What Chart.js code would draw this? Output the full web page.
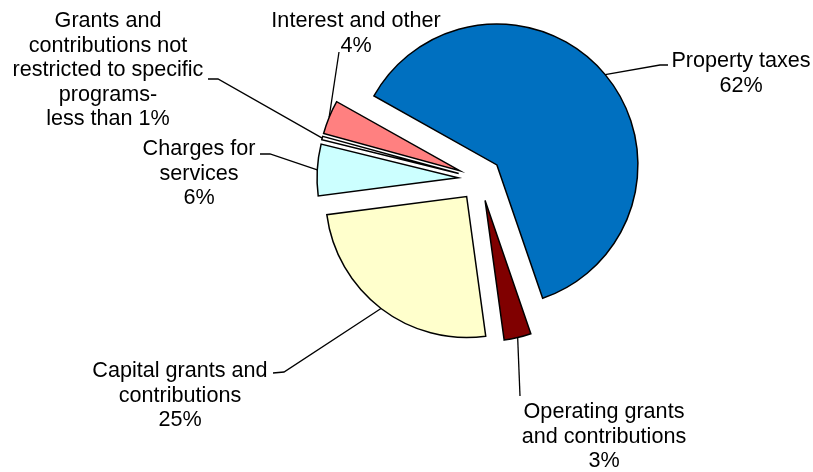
<!DOCTYPE html>
<html>
<head>
<meta charset="utf-8">
<script src="https://cdn.jsdelivr.net/npm/chart.js@4/dist/chart.umd.min.js"></script>
<style>
  html, body { margin: 0; padding: 0; background: #fff; }
  #wrap { width: 813px; height: 472px; }
</style>
</head>
<body>
<div id="wrap"><canvas id="revenueChart" width="813" height="472"></canvas></div>
<script>
// Data
const categories = [
  "Property taxes",
  "Operating grants and contributions",
  "Capital grants and contributions",
  "Charges for services",
  "Grants and contributions not restricted to specific programs",
  "Interest and other"
];
const shares = [61.6, 3.1, 25.1, 5.9, 0.4, 3.9];
const shareLabels = ["62%", "3%", "25%", "6%", "less than 1%", "4%"];
const labelLines = [
  ["Property taxes"],
  ["Operating grants", "and contributions"],
  ["Capital grants and", "contributions"],
  ["Charges for", "services"],
  ["Grants and", "contributions not", "restricted to specific", "programs-"],
  ["Interest and other"]
];
const colors = ["#0070C0", "#800000", "#FFFFCC", "#CCFFFF", "#FFFFFF", "#FF8080"];

// Label placement: text centre x, first baseline y, leader line points after the slice edge
const labelLayout = [
  { tx: 741, ty: 67,  path: [[660, 65], [668, 65]] },
  { tx: 604, ty: 418, path: [[520, 396]] },
  { tx: 180, ty: 377, path: [[284, 372], [273, 373]] },
  { tx: 199, ty: 155, path: [[270, 154], [260, 154]] },
  { tx: 108, ty: 27,  path: [[218, 79], [208, 79]] },
  { tx: 356, ty: 27,  path: [[339, 52]] }
];
const EXPLODE = 22;
const LINE_H = 24.6;

// Push every slice out along its own middle angle
const explodePlugin = {
  id: "explode",
  afterDatasetUpdate(chart, args) {
    args.meta.data.forEach(arc => {
      const mid = (arc.startAngle + arc.endAngle) / 2;
      arc.x += Math.cos(mid) * EXPLODE;
      arc.y += Math.sin(mid) * EXPLODE;
    });
  }
};

// Labels with leader lines
const labelPlugin = {
  id: "sliceLabels",
  afterDatasetsDraw(chart) {
    const ctx = chart.ctx;
    const arcs = chart.getDatasetMeta(0).data;
    ctx.save();
    ctx.strokeStyle = "#000";
    ctx.lineWidth = 1.3;
    ctx.fillStyle = "#000";
    ctx.font = "21.6px 'Liberation Sans', Arial, sans-serif";
    ctx.textAlign = "center";
    ctx.textBaseline = "alphabetic";
    arcs.forEach((arc, i) => {
      const mid = (arc.startAngle + arc.endAngle) / 2;
      const ax = arc.x + Math.cos(mid) * arc.outerRadius;
      const ay = arc.y + Math.sin(mid) * arc.outerRadius;
      const lay = labelLayout[i];
      ctx.beginPath();
      ctx.moveTo(ax, ay);
      lay.path.forEach(p => ctx.lineTo(p[0], p[1]));
      ctx.stroke();
      const lines = labelLines[i].concat([shareLabels[i]]);
      lines.forEach((t, k) => ctx.fillText(t, lay.tx, lay.ty + k * LINE_H));
    });
    ctx.restore();
  }
};

new Chart(document.getElementById("revenueChart"), {
  type: "pie",
  data: {
    labels: categories,
    datasets: [{
      data: shares,
      backgroundColor: colors,
      borderColor: "#000",
      borderWidth: 1.5,
      borderJoinStyle: "miter"
    }]
  },
  options: {
    responsive: false,
    animation: false,
    events: [],
    rotation: -60.7,
    radius: 141,
    layout: { padding: { left: 147, right: 0, top: 0, bottom: 114 } },
    plugins: { legend: { display: false }, tooltip: { enabled: false } }
  },
  plugins: [explodePlugin, labelPlugin]
});
</script>
</body>
</html>
